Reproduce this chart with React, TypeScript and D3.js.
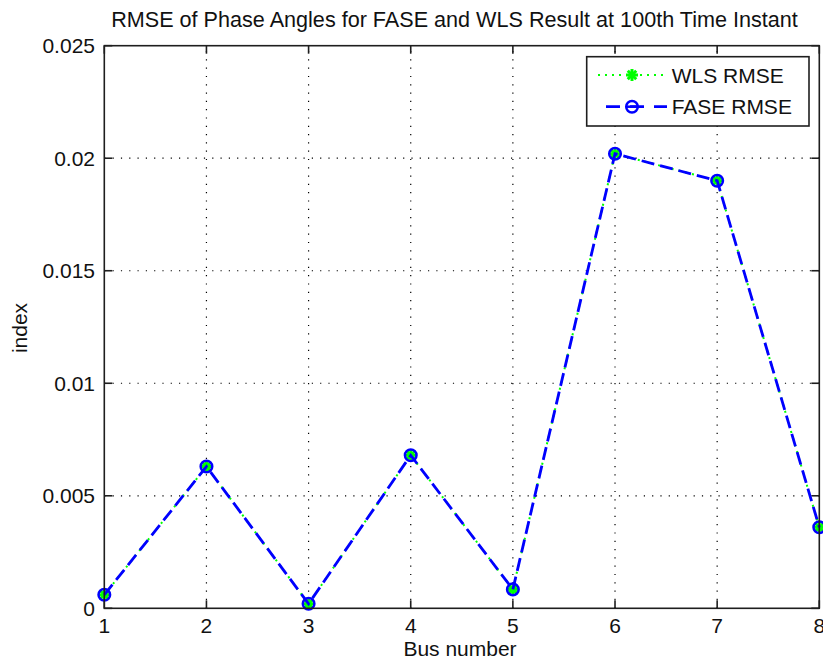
import React from "react";
import * as d3 from "d3";

const busNumbers = [1, 2, 3, 4, 5, 6, 7, 8];
const wlsRmse = [0.0006, 0.0063, 0.0002, 0.0068, 0.00084, 0.0202, 0.019, 0.0036];
const faseRmse = [0.0006, 0.0063, 0.0002, 0.0068, 0.00084, 0.0202, 0.019, 0.0036];
const xTicks = [1, 2, 3, 4, 5, 6, 7, 8];
const yTicks = [0, 0.005, 0.01, 0.015, 0.02, 0.025];
const yTickLabels = ["0", "0.005", "0.01", "0.015", "0.02", "0.025"];
const titleText = "RMSE of Phase Angles for FASE and WLS Result at 100th Time Instant";
const xLabel = "Bus number";
const yLabel = "index";
const legendLabels = ["WLS RMSE", "FASE RMSE"];

const W = 823;
const H = 666;
const L = 104.3;
const R = 819.3;
const T = 45.7;
const B = 608.3;
const FONT = "'Liberation Sans', Arial, Helvetica, sans-serif";
const FS = 21;
const AX = "#1e1e1e";
const GREEN = "#00ff00";
const BLUE = "#0000ff";

function Star({ x, y, s, color, w }: { x: number; y: number; s: number; color: string; w: number }) {
  const d = s * 0.7071;
  return (
    <g stroke={color} strokeWidth={w} strokeLinecap="square">
      <line x1={x - s} y1={y} x2={x + s} y2={y} />
      <line x1={x} y1={y - s} x2={x} y2={y + s} />
      <line x1={x - d} y1={y - d} x2={x + d} y2={y + d} />
      <line x1={x - d} y1={y + d} x2={x + d} y2={y - d} />
    </g>
  );
}

export default function App() {
  const x = d3.scaleLinear().domain([1, 8]).range([L, R]);
  const y = d3.scaleLinear().domain([0, 0.025]).range([B, T]);
  const line = d3
    .line<number>()
    .x((_, i) => x(busNumbers[i]))
    .y((d) => y(d));
  const tickLen = 8;

  return (
    <svg
      width={W}
      height={H}
      style={{ position: "absolute", left: 0, top: 0, background: "#fff" }}
      fontFamily={FONT}
    >
      <rect x={0} y={0} width={W} height={H} fill="#fff" />
      {/* grid */}
      <g stroke="#000" strokeWidth={1.2} strokeDasharray="1.2 7.1">
        {xTicks.slice(1, -1).map((t) => (
          <line key={"gx" + t} x1={x(t)} x2={x(t)} y1={B} y2={T} />
        ))}
        {yTicks.slice(1, -1).map((t) => (
          <line key={"gy" + t} x1={L} x2={R} y1={y(t)} y2={y(t)} />
        ))}
      </g>
      {/* ticks */}
      <g stroke={AX} strokeWidth={1.6}>
        {xTicks.map((t) => (
          <g key={"tx" + t}>
            <line x1={x(t)} x2={x(t)} y1={B} y2={B - tickLen} />
            <line x1={x(t)} x2={x(t)} y1={T} y2={T + tickLen} />
          </g>
        ))}
        {yTicks.map((t) => (
          <g key={"ty" + t}>
            <line x1={L} x2={L + tickLen} y1={y(t)} y2={y(t)} />
            <line x1={R} x2={R - tickLen} y1={y(t)} y2={y(t)} />
          </g>
        ))}
      </g>
      {/* data */}
      <path d={line(wlsRmse) || ""} fill="none" stroke={GREEN} strokeWidth={2} strokeDasharray="2 5" />
      {wlsRmse.map((v, i) => (
        <Star key={"s" + i} x={x(busNumbers[i])} y={y(v)} s={4.5} color={GREEN} w={3} />
      ))}
      <path d={line(faseRmse) || ""} fill="none" stroke={BLUE} strokeWidth={2.8} strokeDasharray="13 6" />
      {faseRmse.map((v, i) => (
        <circle key={"c" + i} cx={x(busNumbers[i])} cy={y(v)} r={5.8} fill="none" stroke={BLUE} strokeWidth={2.5} />
      ))}
      {/* axes box */}
      <rect x={L} y={T} width={R - L} height={B - T} fill="none" stroke={AX} strokeWidth={1.6} />
      {/* tick labels */}
      <g fontSize={FS} fill="#111">
        {xTicks.map((t) => (
          <text key={"lx" + t} x={x(t)} y={632.5} textAnchor="middle">
            {t}
          </text>
        ))}
        {yTicks.map((t, i) => (
          <text key={"ly" + t} x={95} y={y(t) + 7.5} textAnchor="end">
            {yTickLabels[i]}
          </text>
        ))}
      </g>
      <text x={454.5} y={27} fontSize={21.6} textAnchor="middle" fill="#111">
        {titleText}
      </text>
      <text x={460} y={655.5} fontSize={FS} textAnchor="middle" fill="#111">
        {xLabel}
      </text>
      <text transform="translate(27,328) rotate(-90)" fontSize={FS} textAnchor="middle" fill="#111">
        {yLabel}
      </text>
      {/* legend */}
      <g>
        <rect x={586.7} y={56.7} width={222.3} height={69.3} fill="#fff" stroke={AX} strokeWidth={1.6} />
        <line x1={598} x2={666} y1={75} y2={75} stroke={GREEN} strokeWidth={2} strokeDasharray="2 5" />
        <Star x={632} y={75} s={4.5} color={GREEN} w={3} />
        <line x1={606} x2={667} y1={106.7} y2={106.7} stroke={BLUE} strokeWidth={2.8} strokeDasharray="14 10" />
        <circle cx={632} cy={106.7} r={5.8} fill="none" stroke={BLUE} strokeWidth={2.5} />
        <line x1={626} x2={638} y1={106.7} y2={106.7} stroke={BLUE} strokeWidth={2.5} />
        <text x={671.7} y={75 + 7.5} fontSize={FS} fill="#111">
          {legendLabels[0]}
        </text>
        <text x={671.7} y={106.7 + 7.5} fontSize={FS} fill="#111">
          {legendLabels[1]}
        </text>
      </g>
    </svg>
  );
}
